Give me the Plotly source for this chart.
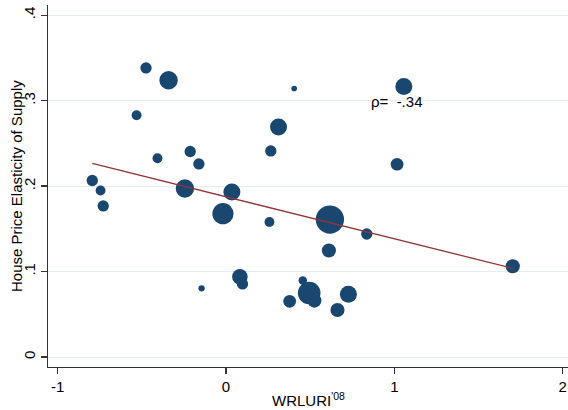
import numpy as np
import plotly.graph_objects as go

# WRLURI 2008 index (x) and house price elasticity of supply (y)
wrluri = [-0.794, -0.745, -0.729, -0.475, -0.341, -0.531, -0.407, -0.2125, -0.161, -0.244,
          0.035, -0.018, 0.405, 1.056, 0.312, 0.266, 1.016, 0.258, 0.617, 0.836,
          0.611, 1.703, -0.145, 0.0825, 0.098, 0.456, 0.494, 0.525, 0.378, 0.727, 0.662]
elasticity = [0.2066, 0.1948, 0.1768, 0.3384, 0.324, 0.283, 0.2327, 0.2405, 0.226, 0.1972,
              0.1932, 0.1677, 0.3143, 0.3166, 0.2693, 0.2412, 0.2256, 0.158, 0.1609, 0.144,
              0.1247, 0.1062, 0.0804, 0.0939, 0.0855, 0.0895, 0.0749, 0.066, 0.0652, 0.0734, 0.055]
# relative weights (marker area)
weight = [64, 49, 64, 64, 169, 49, 49, 64, 64, 169,
          144, 225, 16, 144, 144, 64, 81, 49, 400, 64,
          100, 100, 20, 121, 64, 36, 256, 100, 81, 144, 100]

# fitted line
fit_intercept = 0.1876
fit_slope = -0.0492
rho_label = "ρ=\u00a0\u00a0-.34"

x_ticks = [-1, 0, 1, 2]
x_ticktext = ["-1", "0", "1", "2"]
y_ticks = [0, 0.1, 0.2, 0.3, 0.4]
y_ticktext = ["0", ".1", ".2", ".3", ".4"]
x_title = "WRLURI<sup>'08</sup>"
y_title = "House Price Elasticity of Supply"

FONT = "Liberation Sans, Arial, Helvetica, sans-serif"
NAVY = "#1a476f"
MAROON = "#90353b"
AXC = "#333333"

fig = go.Figure()
fig.add_trace(go.Scatter(
    x=wrluri, y=elasticity, mode="markers",
    marker=dict(size=weight, sizemode="area", sizeref=1, color=NAVY, opacity=1,
                line=dict(width=0)),
    showlegend=False, hoverinfo="skip"))

xf = np.array([min(wrluri), max(wrluri)])
fig.add_trace(go.Scatter(
    x=xf, y=fit_intercept + fit_slope * xf, mode="lines",
    line=dict(color=MAROON, width=1.3), showlegend=False, hoverinfo="skip"))

fig.add_annotation(x=0.85, y=0.2994, text=rho_label, showarrow=False,
                   xanchor="left", yanchor="middle",
                   font=dict(family=FONT, size=15, color="black"))
fig.add_annotation(x=0.5, y=-0.0884, xref="paper", yref="paper", text=x_title,
                   showarrow=False, xanchor="center", yanchor="middle",
                   font=dict(family=FONT, size=15, color="black"))
fig.add_annotation(x=-0.0615, y=0.5, xref="paper", yref="paper", text=y_title,
                   showarrow=False, xanchor="center", yanchor="middle", textangle=-90,
                   font=dict(family=FONT, size=15, color="black"))

fig.update_layout(
    width=568, height=410,
    margin=dict(l=48, r=0, t=5, b=43, autoexpand=False),
    paper_bgcolor="white", plot_bgcolor="white",
    font=dict(family=FONT, size=15, color="black"),
    xaxis=dict(range=[-1.057, 2.031], tickvals=x_ticks, ticktext=x_ticktext,
               showgrid=False, zeroline=False, showline=True, linecolor=AXC,
               linewidth=1.3, ticks="outside", ticklen=6, tickwidth=1.3,
               tickcolor=AXC, tickfont=dict(size=15), automargin=False),
    yaxis=dict(range=[-0.0117, 0.412], tickvals=y_ticks, ticktext=y_ticktext,
               showgrid=True, gridcolor="#e4eef0", gridwidth=1,
               zeroline=False, showline=True, linecolor=AXC, linewidth=1.3,
               ticks="outside", ticklen=6, tickwidth=1.3, tickcolor=AXC,
               tickangle=-90, tickfont=dict(size=15), automargin=False),
)

fig.write_html("out.html", config={"displayModeBar": False, "staticPlot": True},
               post_script="document.body.style.margin='0';document.body.style.overflow='hidden';")
